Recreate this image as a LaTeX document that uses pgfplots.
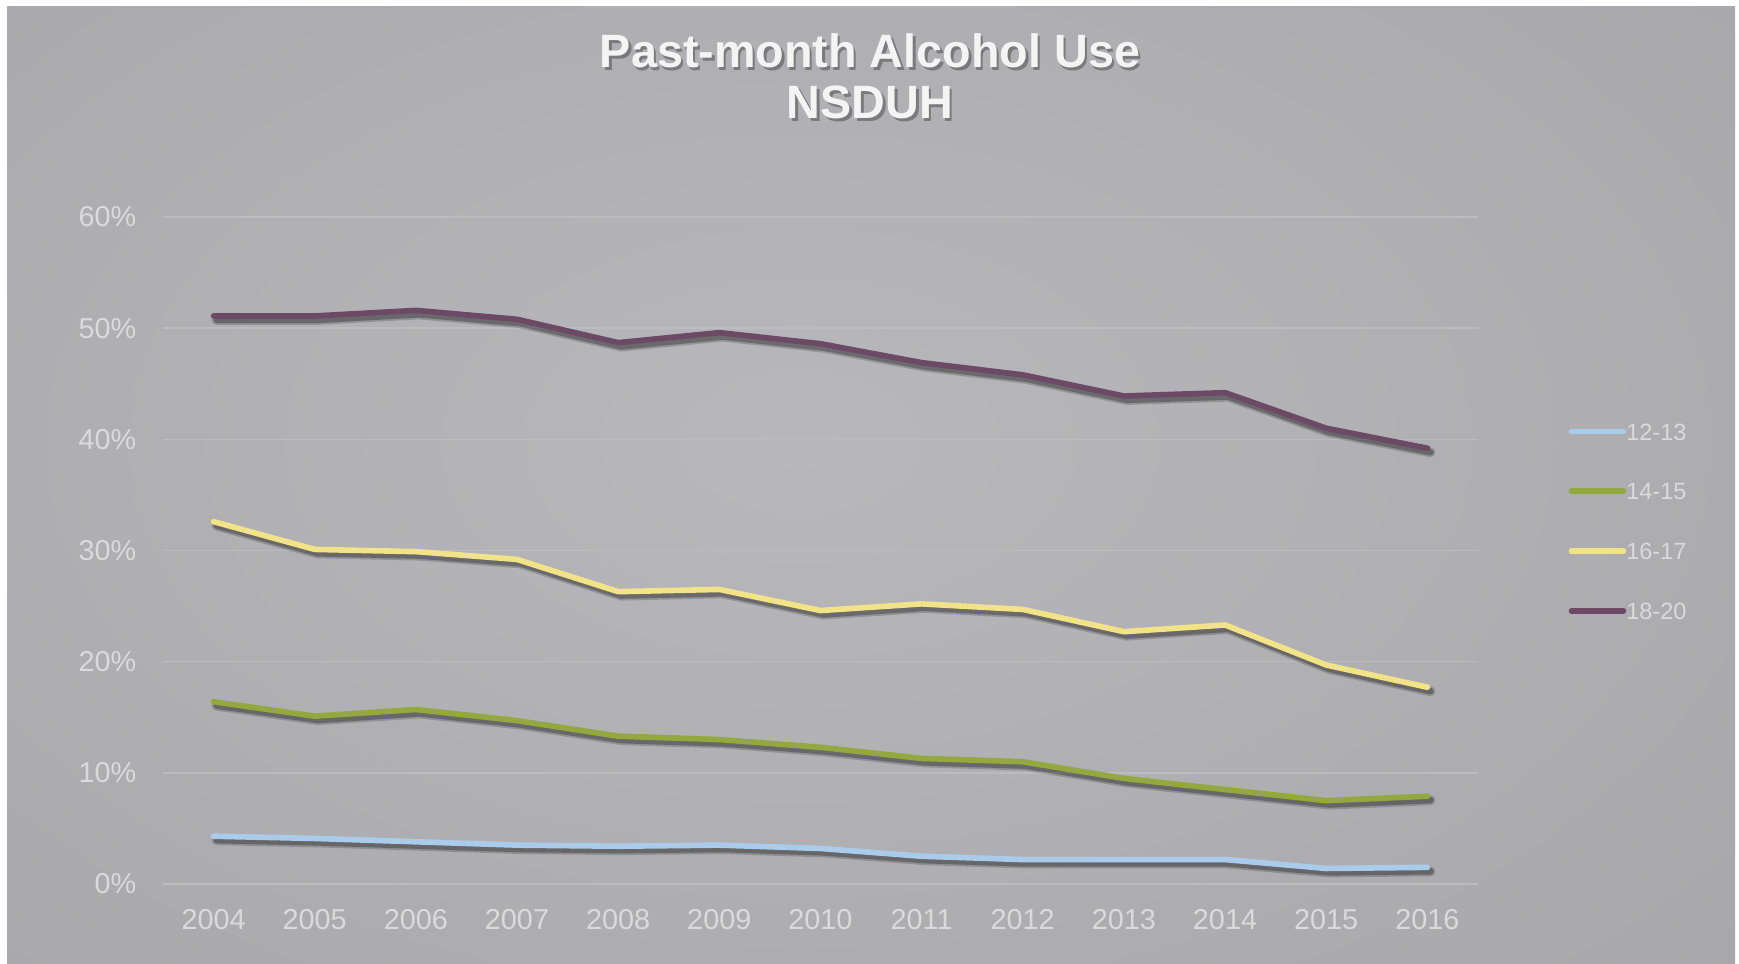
\documentclass[border=0pt]{standalone}
\usepackage{pgfplots}
\pgfplotsset{compat=1.18}
\usepackage{pgfplotstable}
\usepackage{fontspec}
\setmainfont{Liberation Sans}
\definecolor{bgin}{RGB}{184,184,188}
\definecolor{bgout}{RGB}{160,160,163}
\definecolor{lbl}{RGB}{218,218,218}
\definecolor{gridc}{RGB}{188,188,192}
\definecolor{cA}{RGB}{170,204,234}
\definecolor{cB}{RGB}{148,168,64}
\definecolor{cC}{RGB}{242,226,136}
\definecolor{cD}{RGB}{108,74,102}
\definecolor{ttl}{RGB}{244,244,244}

\pgfplotstableread{
year a b c d
2004 4.3 16.4 32.6 51.1
2005 4.1 15.1 30.1 51.1
2006 3.8 15.7 29.9 51.6
2007 3.5 14.7 29.2 50.8
2008 3.4 13.3 26.3 48.7
2009 3.5 13.0 26.5 49.6
2010 3.2 12.3 24.6 48.6
2011 2.5 11.3 25.2 46.9
2012 2.2 11.0 24.7 45.8
2013 2.2 9.5 22.7 43.9
2014 2.2 8.5 23.3 44.2
2015 1.4 7.5 19.7 41.0
2016 1.5 7.9 17.7 39.2
}\data

\begin{document}
\begin{tikzpicture}
\useasboundingbox (0,0) rectangle (173.9mm,96.3mm);
\fill[white] (0,0) rectangle (173.9mm,96.3mm);
\begin{scope}
\clip (0.7mm,-1mm) rectangle (173.5mm,95.7mm);
\fill[bgout] (0.7mm,-1mm) rectangle (173.5mm,95.7mm);
\shade[inner color=bgin, outer color=bgout] (80mm,52mm) ellipse (190mm and 115mm);
\end{scope}
% title
\node[anchor=base, text=black, opacity=0.3, font=\bfseries\fontsize{13.3}{16}\selectfont] at (87.25mm,89.3mm) {Past-month Alcohol Use};
\node[anchor=base, text=black, opacity=0.3, font=\bfseries\fontsize{13.3}{16}\selectfont] at (87.25mm,84.15mm) {NSDUH};
\node[anchor=base, text=ttl, font=\bfseries\fontsize{13.3}{16}\selectfont] at (87.0mm,89.6mm) {Past-month Alcohol Use};
\node[anchor=base, text=ttl, font=\bfseries\fontsize{13.3}{16}\selectfont] at (87.0mm,84.45mm) {NSDUH};
\begin{axis}[
  at={(16.3mm,7.9mm)}, anchor=south west,
  scale only axis, width=131.5mm, height=66.7mm,
  xmin=2003.5, xmax=2016.5, ymin=0, ymax=60,
  xtick={2004,...,2016}, ytick={0,10,...,60},
  axis line style={draw=none},
  major tick length=0pt,
  ymajorgrids, grid style={gridc, line width=0.45pt},
  /pgf/number format/assume math mode=true,
  xticklabel style={/pgf/number format/1000 sep={}, font=\fontsize{8.2}{10}\selectfont, text=lbl, inner sep=0pt, anchor=north, yshift=-2.5mm},
  yticklabel={\pgfmathprintnumber{\tick}\%},
  yticklabel style={font=\fontsize{8.2}{10}\selectfont, text=lbl, inner sep=0pt, anchor=east, xshift=-2.6mm},
  legend style={at={(axis description cs:1.0684,0.544)}, anchor=west, draw=none, fill=none, inner sep=0pt,
     font=\fontsize{6.7}{8}\selectfont, text=lbl, row sep=12.1pt,
     nodes={inner sep=0pt, text height=4.9pt, text depth=0pt}},
  legend cell align=left,
  legend image code/.code={\draw[#1, line width=1.6pt, line cap=round] (0mm,0mm) -- (5.2mm,0mm);},
  every axis plot/.append style={line join=round, line cap=round},
]
% shadows
\addplot[forget plot, black, opacity=0.18, line width=2.8pt, xshift=0.3mm, yshift=-0.4mm] table[x=year,y=a]{\data};
\addplot[forget plot, black, opacity=0.28, line width=1.8pt, xshift=0.3mm, yshift=-0.4mm] table[x=year,y=a]{\data};
\addplot[cA, line width=1.6pt] table[x=year,y=a]{\data};
\addlegendentry{12-13}
\addplot[forget plot, black, opacity=0.18, line width=2.8pt, xshift=0.3mm, yshift=-0.4mm] table[x=year,y=b]{\data};
\addplot[forget plot, black, opacity=0.28, line width=1.8pt, xshift=0.3mm, yshift=-0.4mm] table[x=year,y=b]{\data};
\addplot[cB, line width=1.6pt] table[x=year,y=b]{\data};
\addlegendentry{14-15}
\addplot[forget plot, black, opacity=0.18, line width=2.8pt, xshift=0.3mm, yshift=-0.4mm] table[x=year,y=c]{\data};
\addplot[forget plot, black, opacity=0.28, line width=1.8pt, xshift=0.3mm, yshift=-0.4mm] table[x=year,y=c]{\data};
\addplot[cC, line width=1.6pt] table[x=year,y=c]{\data};
\addlegendentry{16-17}
\addplot[forget plot, black, opacity=0.18, line width=2.8pt, xshift=0.3mm, yshift=-0.4mm] table[x=year,y=d]{\data};
\addplot[forget plot, black, opacity=0.28, line width=1.8pt, xshift=0.3mm, yshift=-0.4mm] table[x=year,y=d]{\data};
\addplot[cD, line width=1.6pt] table[x=year,y=d]{\data};
\addlegendentry{18-20}
\end{axis}
\end{tikzpicture}
\end{document}
